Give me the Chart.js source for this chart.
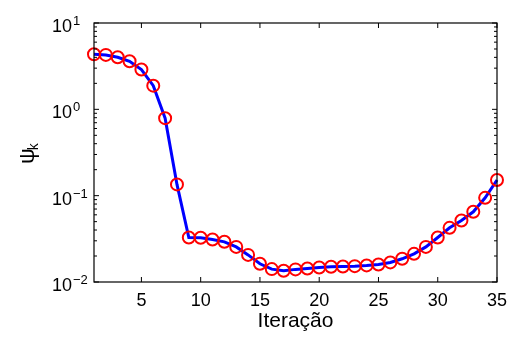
<!DOCTYPE html>
<html>
<head>
<meta charset="utf-8">
<script src="https://cdn.jsdelivr.net/npm/chart.js@4/dist/chart.umd.min.js"></script>
<style>
  html, body { margin: 0; padding: 0; background: #fff; }
  canvas { display: block; }
</style>
</head>
<body>
<canvas id="grafico" width="508" height="338"></canvas>
<script>
// valores
const iteracoes = [1,2,3,4,5,6,7,8,9,10,11,12,13,14,15,16,17,18,19,20,21,22,23,24,25,26,27,28,29,30,31,32,33,34,35]
const psi = [4.34, 4.27, 4.01, 3.6, 2.89, 1.88, 0.79, 0.135, 0.0328, 0.0325, 0.0311, 0.0292, 0.0255, 0.0206, 0.01625,
             0.0141, 0.01349, 0.0140, 0.01436, 0.01475, 0.0150, 0.0151, 0.01527, 0.01556, 0.01597,
             0.01686, 0.01858, 0.0212, 0.0255, 0.0328, 0.0424, 0.0516, 0.065, 0.0944, 0.152]
const xTicks = [5, 10, 15, 20, 25, 30, 35]
const yExpoentes = [-2, -1, 0, 1]

const FONTE = '"Liberation Sans", Arial, Helvetica, sans-serif'

// eixos estilo matlab: caixa, ticks para dentro, rotulos 10^n
const eixosPlugin = {
    id: 'eixos',
    afterDraw(chart){
        let ctx = chart.ctx
        let a = chart.chartArea
        let sx = chart.scales.x
        let sy = chart.scales.y
        ctx.save()
        ctx.strokeStyle = '#000'
        ctx.lineWidth = 1.2
        ctx.strokeRect(a.left, a.top, a.right - a.left, a.bottom - a.top)

        ctx.lineWidth = 1
        ctx.beginPath()
        for(let v of xTicks){
            let x = sx.getPixelForValue(v)
            ctx.moveTo(x, a.bottom); ctx.lineTo(x, a.bottom - 5)
            ctx.moveTo(x, a.top); ctx.lineTo(x, a.top + 5)
        }
        for(let e of yExpoentes){
            for(let m = 1; m <= 9; m++){
                let v = m * Math.pow(10, e)
                if(v > sy.max * 1.0001) continue
                let y = sy.getPixelForValue(v)
                let len = m == 1 ? 5 : 3
                ctx.moveTo(a.left, y); ctx.lineTo(a.left + len, y)
                ctx.moveTo(a.right, y); ctx.lineTo(a.right - len, y)
            }
        }
        ctx.stroke()

        ctx.fillStyle = '#000'
        ctx.textBaseline = 'alphabetic'

        // rotulos x
        ctx.font = '18px ' + FONTE
        ctx.textAlign = 'center'
        for(let v of xTicks){
            ctx.fillText(String(v), sx.getPixelForValue(v), a.bottom + 23.5)
        }
        ctx.font = '21px ' + FONTE
        ctx.fillText('Iteração', (a.left + a.right) / 2, 327)

        // rotulos y
        for(let e of yExpoentes){
            let y = sy.getPixelForValue(Math.pow(10, e))
            ctx.textAlign = 'left'
            ctx.font = '18px ' + FONTE
            ctx.fillText('10', 52, y + 9)
            ctx.font = '13px ' + FONTE
            ctx.fillText(String(e).replace('-', '\u2212'), 73, y + 2)
        }

        // titulo y: psi_k
        ctx.translate(33.5, 164)
        ctx.rotate(-Math.PI / 2)
        ctx.textAlign = 'left'
        ctx.font = '22px ' + FONTE
        ctx.fillText('\u03c8', 0, 0)
        let w = ctx.measureText('\u03c8').width
        ctx.font = '14px ' + FONTE
        ctx.fillText('k', w - 2, 4.5)
        ctx.restore()
    }
}

new Chart(document.getElementById('grafico'), {
    type: 'line',
    data: {
        labels: iteracoes,
        datasets: [{
            data: iteracoes.map((it, i) => ({x: it, y: psi[i]})),
            borderColor: '#0000ff',
            borderWidth: 3,
            tension: 0,
            pointRadius: 6,
            pointBorderWidth: 2,
            pointBorderColor: '#ff0000',
            pointBackgroundColor: 'rgba(0,0,0,0)',
            pointHoverRadius: 6,
            clip: false
        }]
    },
    options: {
        responsive: false,
        devicePixelRatio: 1,
        animation: false,
        events: [],
        layout: { padding: { left: 0, top: 23, right: 11, bottom: 0 } },
        plugins: {
            legend: { display: false },
            tooltip: { enabled: false }
        },
        scales: {
            x: {
                type: 'linear',
                min: 1,
                max: 35,
                grid: { display: false, drawTicks: false },
                border: { display: false },
                ticks: { display: false },
                afterFit(scale){ scale.height = 56 }
            },
            y: {
                type: 'logarithmic',
                min: 0.01,
                max: 10,
                grid: { display: false, drawTicks: false },
                border: { display: false },
                ticks: { display: false },
                afterFit(scale){ scale.width = 94 }
            }
        }
    },
    plugins: [eixosPlugin]
})
</script>
</body>
</html>
